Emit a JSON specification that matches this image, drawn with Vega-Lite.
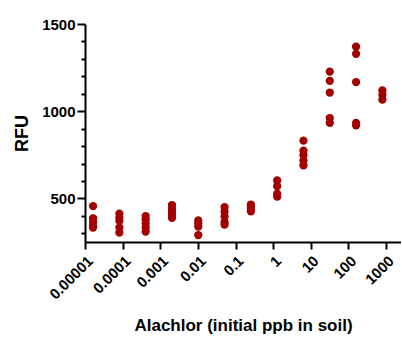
{
  "$schema": "https://vega.github.io/schema/vega-lite/v6.json",
  "width": 316,
  "height": 218,
  "padding": {"left": 13, "top": 17, "right": 0, "bottom": 2},
  "background": "white",
  "config": {"view": {"stroke": null}, "font": "Liberation Sans"},
  "data": {"values": [
    {"ppb": 0.000016384, "rfu": 456}, {"ppb": 0.000016384, "rfu": 386}, {"ppb": 0.000016384, "rfu": 365}, {"ppb": 0.000016384, "rfu": 345}, {"ppb": 0.000016384, "rfu": 333},
    {"ppb": 0.00008192, "rfu": 413}, {"ppb": 0.00008192, "rfu": 390}, {"ppb": 0.00008192, "rfu": 371}, {"ppb": 0.00008192, "rfu": 333}, {"ppb": 0.00008192, "rfu": 304},
    {"ppb": 0.0004096, "rfu": 399}, {"ppb": 0.0004096, "rfu": 380}, {"ppb": 0.0004096, "rfu": 357}, {"ppb": 0.0004096, "rfu": 333}, {"ppb": 0.0004096, "rfu": 310},
    {"ppb": 0.002048, "rfu": 462}, {"ppb": 0.002048, "rfu": 443}, {"ppb": 0.002048, "rfu": 424}, {"ppb": 0.002048, "rfu": 405}, {"ppb": 0.002048, "rfu": 388},
    {"ppb": 0.01024, "rfu": 374}, {"ppb": 0.01024, "rfu": 357}, {"ppb": 0.01024, "rfu": 338}, {"ppb": 0.01024, "rfu": 290},
    {"ppb": 0.0512, "rfu": 450}, {"ppb": 0.0512, "rfu": 424}, {"ppb": 0.0512, "rfu": 396}, {"ppb": 0.0512, "rfu": 365}, {"ppb": 0.0512, "rfu": 350},
    {"ppb": 0.256, "rfu": 465}, {"ppb": 0.256, "rfu": 452}, {"ppb": 0.256, "rfu": 440}, {"ppb": 0.256, "rfu": 426},
    {"ppb": 1.28, "rfu": 603}, {"ppb": 1.28, "rfu": 570}, {"ppb": 1.28, "rfu": 527}, {"ppb": 1.28, "rfu": 510},
    {"ppb": 6.4, "rfu": 831}, {"ppb": 6.4, "rfu": 774}, {"ppb": 6.4, "rfu": 748}, {"ppb": 6.4, "rfu": 717}, {"ppb": 6.4, "rfu": 690},
    {"ppb": 32, "rfu": 1227}, {"ppb": 32, "rfu": 1174}, {"ppb": 32, "rfu": 1107}, {"ppb": 32, "rfu": 961}, {"ppb": 32, "rfu": 933},
    {"ppb": 160, "rfu": 1370}, {"ppb": 160, "rfu": 1329}, {"ppb": 160, "rfu": 1167}, {"ppb": 160, "rfu": 933}, {"ppb": 160, "rfu": 919},
    {"ppb": 800, "rfu": 1119}, {"ppb": 800, "rfu": 1094}, {"ppb": 800, "rfu": 1066}
  ]},
  "mark": {"type": "circle", "size": 68, "color": "#a30000", "opacity": 1},
  "encoding": {
    "x": {
      "field": "ppb", "type": "quantitative",
      "scale": {"type": "log", "domain": [0.00001, 2500], "nice": false},
      "axis": {
        "title": "Alachlor (initial ppb in soil)",
        "values": [0.00001, 0.0001, 0.001, 0.01, 0.1, 1, 10, 100, 1000],
        "labelExpr": "datum.value >= 1 ? format(datum.value, 'd') : format(datum.value, '.' + (round(-log(datum.value)/LN10)) + 'f')",
        "labelAngle": -45,
        "labelOverlap": false,
        "labelBound": false,
        "labelFlush": false,
        "labelFontSize": 15,
        "labelFontWeight": "bold",
        "labelColor": "black",
        "labelPadding": 4,
        "titleFontSize": 17,
        "titleFontWeight": "bold",
        "titleColor": "black",
        "titlePadding": 16,
        "domainColor": "black",
        "domainWidth": 2,
        "tickColor": "black",
        "tickWidth": 2,
        "tickSize": 7,
        "grid": false
      }
    },
    "y": {
      "field": "rfu", "type": "quantitative",
      "scale": {"domain": [250, 1500], "nice": false, "zero": false},
      "axis": {
        "title": "RFU",
        "values": [300, 400, 500, 600, 700, 800, 900, 1000, 1100, 1200, 1300, 1400, 1500],
        "labelExpr": "datum.value % 500 === 0 ? datum.label : ''",
        "tickSize": {"condition": {"test": "datum.value % 500 === 0", "value": 8}, "value": 4},
        "labelOverlap": false,
        "labelFontSize": 15,
        "labelFontWeight": "bold",
        "labelColor": "black",
        "labelPadding": 2,
        "format": "d",
        "titleFontSize": 18,
        "titleFontWeight": "bold",
        "titleColor": "black",
        "titlePadding": 10,
        "domainColor": "black",
        "domainWidth": 2,
        "tickColor": "black",
        "tickWidth": 2,
        "grid": false
      }
    }
  }
}
